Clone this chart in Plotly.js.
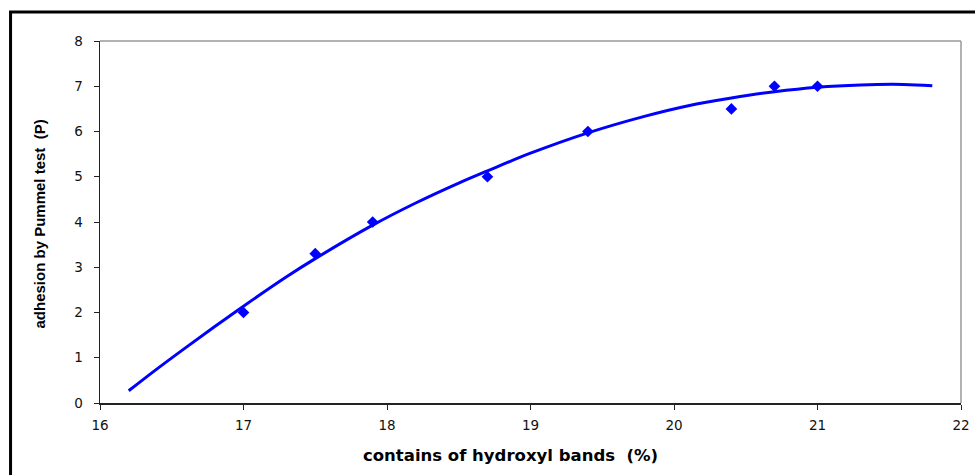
<!DOCTYPE html>
<html>
<head>
<meta charset="utf-8">
<script src="https://cdn.plot.ly/plotly-3.0.1.min.js"></script>
<style>
  html, body { margin: 0; padding: 0; background: #fff; }
  #chart { width: 975px; height: 475px; }
</style>
</head>
<body>
<div id="chart"></div>
<script>
// Measured data points (hydroxyl band content %, adhesion)
const hydroxylPct = [17.0, 17.5, 17.9, 18.7, 19.4, 20.4, 20.7, 21.0];
const adhesion    = [2.0, 3.3, 4.0, 5.0, 6.0, 6.5, 7.0, 7.0];

// Trend curve
const trendX = [16.2, 16.4, 16.6, 16.8, 17.0, 17.3, 17.5, 17.9, 18.2, 18.5, 18.7, 19.0, 19.4, 19.8, 20.1, 20.4, 20.7, 21.0, 21.3, 21.6, 21.8];
const trendY = [0.27, 0.76, 1.23, 1.69, 2.14, 2.79, 3.19, 3.93, 4.42, 4.86, 5.13, 5.52, 5.97, 6.34, 6.57, 6.74, 6.88, 6.98, 7.03, 7.04, 7.01];

// Axis ticks
const xTicks = [16, 17, 18, 19, 20, 21, 22];
const yTicks = [0, 1, 2, 3, 4, 5, 6, 7, 8];

const xTitle = 'contains of hydroxyl bands  (%)';
const yTitle = 'adhesion by Pummel test  (P)';

const blue = '#0000FF';
const W = 975, H = 475;
const L = 99.5, R = 961, T = 41, B = 403;
const px = x => (x - L) / (R - L);
const py = y => (B - y) / (B - T);

const traces = [
  {
    x: trendX, y: trendY, type: 'scatter', mode: 'lines',
    line: { color: blue, width: 3, shape: 'spline', smoothing: 1 },
    hoverinfo: 'skip', showlegend: false
  },
  {
    x: hydroxylPct, y: adhesion, type: 'scatter', mode: 'markers',
    marker: { symbol: 'diamond', size: 9, color: blue },
    showlegend: false
  }
];

const axisFont = { family: 'DejaVu Sans, sans-serif', size: 13.5, color: '#111' };
const xTitleFont = { family: 'DejaVu Sans, sans-serif', size: 16.5, color: '#000', weight: 'bold' };
const yTitleFont = { family: 'Liberation Sans, Arial, sans-serif', size: 15, color: '#000', weight: 'bold' };

const layout = {
  width: W, height: H,
  margin: { l: L, r: W - R, t: T, b: H - B, pad: 0 },
  paper_bgcolor: '#fff', plot_bgcolor: '#fff',
  showlegend: false,
  xaxis: {
    range: [16, 22], tickvals: xTicks, ticktext: xTicks.map(String),
    showgrid: false, zeroline: false,
    showline: true, linecolor: '#222', linewidth: 1.5,
    ticks: 'outside', ticklen: 5, tickcolor: '#222', tickwidth: 1,
    tickfont: axisFont, ticklabelstandoff: 4
  },
  yaxis: {
    range: [0, 8], tickvals: yTicks, ticktext: yTicks.map(String),
    showgrid: false, zeroline: false,
    showline: true, linecolor: '#222', linewidth: 1.5,
    ticks: 'outside', ticklen: 5, tickcolor: '#222', tickwidth: 1,
    tickfont: axisFont, ticklabelstandoff: 8
  },
  shapes: [
    { type: 'line', xref: 'paper', yref: 'paper', x0: 0, x1: 1, y0: 1, y1: 1,
      line: { color: '#999', width: 1.5 } },
    { type: 'line', xref: 'paper', yref: 'paper', x0: 1, x1: 1, y0: 0, y1: 1,
      line: { color: '#999', width: 1.5 } },
    { type: 'path', xref: 'paper', yref: 'paper',
      path: 'M ' + px(10) + ',' + py(480) + ' L ' + px(10) + ',' + py(12) + ' L ' + px(980) + ',' + py(12),
      line: { color: '#000', width: 3 } }
  ],
  annotations: [
    { text: xTitle, xref: 'paper', yref: 'paper', x: px(510), y: py(455),
      xanchor: 'center', yanchor: 'middle', showarrow: false, font: xTitleFont },
    { text: yTitle, xref: 'paper', yref: 'paper', x: px(38), y: py(224),
      xanchor: 'center', yanchor: 'middle', showarrow: false, textangle: -90, font: yTitleFont }
  ]
};

Plotly.newPlot('chart', traces, layout, { displayModeBar: false, staticPlot: true });
</script>
</body>
</html>
